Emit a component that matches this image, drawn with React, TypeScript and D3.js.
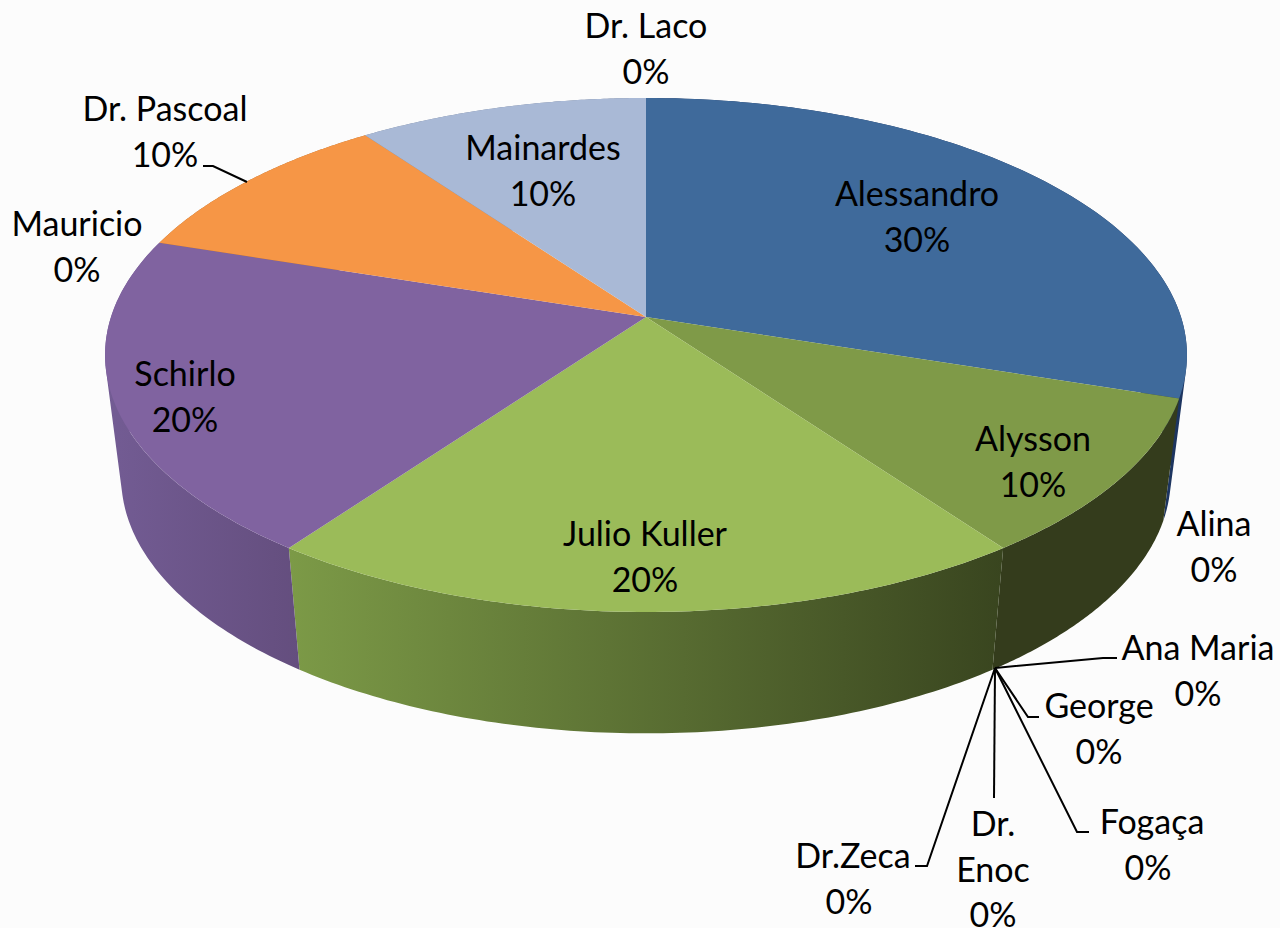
import * as d3 from 'd3';

// slices clockwise from 12 o'clock
const names = ['Alessandro', 'Alina', 'Alysson', 'Ana Maria', 'George', 'Fogaça', 'Dr. Enoc', 'Dr.Zeca', 'Julio Kuller', 'Schirlo', 'Mauricio', 'Dr. Pascoal', 'Mainardes', 'Dr. Laco'];
const shares = [30, 0, 10, 0, 0, 0, 0, 0, 20, 20, 0, 10, 10, 0];

const topColors: Record<string, string> = {
  Alessandro: '#3f6a9b',
  Alysson: '#7f9a48',
  'Julio Kuller': '#9bbb59',
  Schirlo: '#8063a0',
  'Dr. Pascoal': '#f69646',
  Mainardes: '#a9b9d6',
};
const wallColors: Record<string, [string, string]> = {
  Alessandro: ['#1d3560', '#1d3560'],
  Alysson: ['#343c1c', '#343c1c'],
  'Julio Kuller': ['#7c9a47', '#39451f'],
  Schirlo: ['#735c94', '#644e7e'],
  'Dr. Pascoal': ['#a86a30', '#a86a30'],
  Mainardes: ['#76829a', '#76829a'],
};

// label text with centre x, first baseline and x shift of the percent line
const labelRows: [string, number, number, number][] = [
  ['Dr. Laco', 646, 38, 0],
  ['Alessandro', 917, 206, 0],
  ['Mainardes', 543, 160, 0],
  ['Dr. Pascoal', 165, 121, 0],
  ['Mauricio', 77, 236, 0],
  ['Schirlo', 185, 386, 0],
  ['Julio Kuller', 645, 546, 0],
  ['Alysson', 1033, 451, 0],
  ['Alina', 1214, 536, 0],
  ['Ana Maria', 1198, 660, 0],
  ['George', 1099, 718, 0],
  ['Fogaça', 1152, 834, -4],
  ['Dr.Zeca', 853, 868, -4],
  ['Dr. Enoc', 993, 836, 0],
];
const wrapped: Record<string, string[]> = { 'Dr. Enoc': ['Dr.', 'Enoc'] };

const leaderLines: [number, number][][] = [
  [[203, 166], [213, 166], [247, 182]],
  [[995, 668], [1103, 658], [1117, 658]],
  [[995, 668], [1028, 717], [1039, 717]],
  [[995, 668], [1077, 832], [1089, 832]],
  [[995, 668], [994, 798]],
  [[995, 668], [927, 866], [915, 866]],
];

const lineGap = 45.5;
const persp = 0.1478;
const topFace = { cx: 646, cy: 317, a: 535, b: 251.4 };
const baseFace = { cx: 646, cy: 440, a: 519, b: 250 };

type Face = typeof topFace;
// angle is clockwise from the top, the near edge gets bigger
const project = (face: Face, angle: number): [number, number] => {
  const u = Math.sin(angle);
  const v = -Math.cos(angle);
  const w = 1 - persp * v;
  return [face.cx + (face.a * u) / w, face.cy + (face.b * v) / w];
};

const arcPoints = (face: Face, a0: number, a1: number) =>
  d3.range(0, 91).map(i => project(face, a0 + ((a1 - a0) * i) / 90));

const line = d3.line();

// the wall is a strip of quads, all wound the same way so the fold at the sides stays filled
const wallPath = (a0: number, a1: number) => {
  const upper = arcPoints(topFace, a0, a1);
  const lower = arcPoints(baseFace, a0, a1);
  return d3
    .range(upper.length - 1)
    .map(i => {
      const quad = [upper[i], upper[i + 1], lower[i + 1], lower[i]];
      if (d3.polygonArea(quad) < 0) quad.reverse();
      return line(quad) + 'Z';
    })
    .join('');
};

export default function App() {
  const pie = d3.pie<number>().sort(null).startAngle(0).endAngle(2 * Math.PI);
  const arcs = pie(shares)
    .map((d, i) => ({ ...d, name: names[i] }))
    .filter(d => d.value > 0);

  return (
    <svg
      width={1280}
      height={928}
      style={{ position: 'absolute', left: 0, top: 0, background: '#fcfcfc' }}
      fontFamily="Lato, 'Open Sans', sans-serif"
    >
      <defs>
        {arcs.map((d, i) => (
          <linearGradient key={d.name} id={`wall-${i}`} x1="0" y1="0" x2="1" y2="0">
            <stop offset="0" stopColor={wallColors[d.name][0]} />
            <stop offset="1" stopColor={wallColors[d.name][1]} />
          </linearGradient>
        ))}
      </defs>

      {arcs.map((d, i) => (
        <path key={d.name} d={wallPath(d.startAngle, d.endAngle)} fill={`url(#wall-${i})`} />
      ))}

      {arcs.map(d => (
        <path
          key={d.name}
          d={line([[topFace.cx, topFace.cy], ...arcPoints(topFace, d.startAngle, d.endAngle)]) + 'Z'}
          fill={topColors[d.name]}
        />
      ))}

      {leaderLines.map((pts, i) => (
        <path key={i} d={line(pts) ?? ''} fill="none" stroke="#000" strokeWidth={2} />
      ))}

      {labelRows.map(([name, x, y, shift]) => {
        const rows = wrapped[name] ?? [name];
        return (
          <text key={name} textAnchor="middle" fontSize={34} fill="#000">
            {rows.map((row, i) => (
              <tspan key={i} x={x} y={y + i * lineGap}>
                {row}
              </tspan>
            ))}
            <tspan x={x + shift} y={y + rows.length * lineGap}>
              {shares[names.indexOf(name)]}%
            </tspan>
          </text>
        );
      })}
    </svg>
  );
}
